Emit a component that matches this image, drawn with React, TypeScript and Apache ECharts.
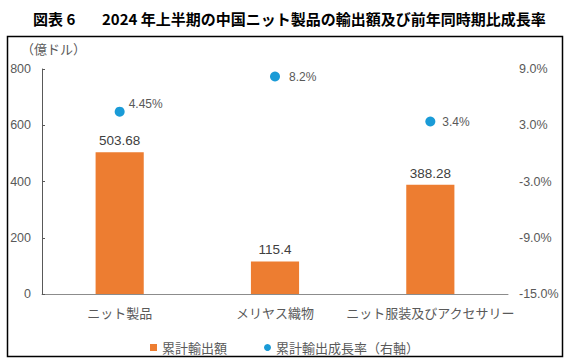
import React, { useEffect, useRef } from "react";
import * as echarts from "echarts";

const categories = ["ニット製品", "メリヤス織物", "ニット服装及びアクセサリー"];
const exportValues = [503.68, 115.4, 388.28];
const growthRates = [4.45, 8.2, 3.4];
const leftTicks = { min: 0, max: 800, interval: 200 };
const rightTicks = { min: -15, max: 9, interval: 6 };
const growthLabelOffsets = [[-1, -8], [4, 0], [2, 0]];

const NUM_FONT = "'Liberation Sans', 'Noto Sans CJK JP', sans-serif";
const JP_FONT = "'Noto Sans CJK JP', sans-serif";

export default function App() {
  const ref = useRef<HTMLDivElement>(null);
  useEffect(() => {
    if (!ref.current) return;
    const chart = echarts.init(ref.current, null, { renderer: "svg" });
    chart.setOption({
      animation: false,
      backgroundColor: "#ffffff",
      graphic: [
        {
          type: "rect",
          shape: { x: 7.5, y: 36.5, width: 555, height: 320 },
          style: { fill: "none", stroke: "#000", lineWidth: 1.5 },
          z: 100,
        },
        {
          type: "text",
          x: 33,
          y: 18,
          style: {
            text: "図表 6",
            font: `bold 15px ${JP_FONT}`,
            fill: "#000",
            textVerticalAlign: "middle",
          },
        },
        {
          type: "text",
          x: 102,
          y: 18,
          style: {
            text: "2024 年上半期の中国ニット製品の輸出額及び前年同時期比成長率",
            font: `bold 15px ${JP_FONT}`,
            fill: "#000",
            textVerticalAlign: "middle",
          },
        },
        {
          type: "text",
          x: 21,
          y: 48,
          style: {
            text: "（億ドル）",
            font: `13px ${JP_FONT}`,
            fill: "#595959",
            textVerticalAlign: "middle",
          },
        },
      ],
      legend: {
        left: 145,
        top: 336,
        itemWidth: 7,
        itemHeight: 7,
        itemGap: 37,
        textStyle: { fontSize: 13, color: "#595959", fontFamily: JP_FONT },
        data: [
          { name: "累計輸出額", icon: "rect" },
          { name: "累計輸出成長率（右軸）", icon: "circle" },
        ],
      },
      grid: { left: 42, right: 61, top: 69, bottom: 68 },
      xAxis: {
        type: "category",
        data: categories,
        axisLine: { lineStyle: { color: "#8c8c8c", width: 1 } },
        axisTick: { show: false },
        axisLabel: {
          interval: 0,
          margin: 12,
          fontSize: 13,
          color: "#595959",
          fontFamily: JP_FONT,
        },
      },
      yAxis: [
        {
          type: "value",
          ...leftTicks,
          axisLine: { show: true, lineStyle: { color: "#595959" } },
          axisTick: { show: true, inside: true, length: 3, lineStyle: { color: "#595959" } },
          splitLine: { show: false },
          axisLabel: { fontSize: 12.5, color: "#595959", margin: 11, fontFamily: NUM_FONT },
        },
        {
          type: "value",
          ...rightTicks,
          axisLine: { show: false },
          axisTick: { show: false },
          splitLine: { show: false },
          axisLabel: {
            fontSize: 12.5,
            color: "#595959",
            margin: 11,
            fontFamily: NUM_FONT,
            formatter: (v: number) => v.toFixed(1) + "%",
          },
        },
      ],
      series: [
        {
          name: "累計輸出額",
          type: "bar",
          data: exportValues,
          barWidth: "31%",
          itemStyle: { color: "#ED7D31" },
          label: {
            show: true,
            position: "top",
            distance: 5,
            fontSize: 13.5,
            color: "#404040",
            fontFamily: NUM_FONT,
          },
        },
        {
          name: "累計輸出成長率（右軸）",
          type: "scatter",
          yAxisIndex: 1,
          symbol: "circle",
          symbolSize: 10,
          itemStyle: { color: "#1A9BD7", opacity: 1 },
          data: growthRates.map((v, i) => ({
            value: v,
            label: { offset: growthLabelOffsets[i] },
          })),
          label: {
            show: true,
            position: "right",
            distance: 5,
            fontSize: 12,
            color: "#595959",
            fontFamily: NUM_FONT,
            formatter: (p: any) => p.value + "%",
          },
        },
      ],
    });
    return () => chart.dispose();
  }, []);
  return (
    <div
      ref={ref}
      style={{ position: "fixed", left: 0, top: 0, width: 569, height: 362 }}
    />
  );
}
